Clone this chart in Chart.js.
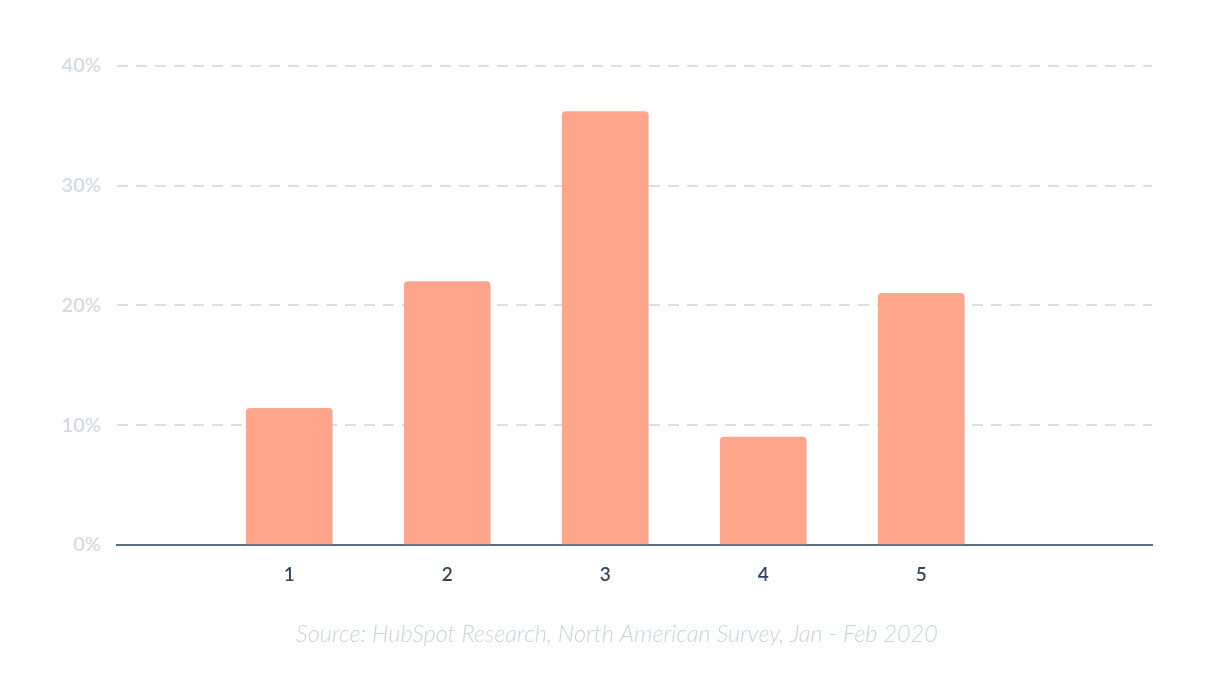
<!DOCTYPE html>
<html>
<head>
<meta charset="utf-8">
<script src="https://cdn.jsdelivr.net/npm/chart.js@4/dist/chart.umd.min.js"></script>
<style>
  html, body { margin: 0; padding: 0; background: #ffffff; }
  #wrap { width: 1224px; height: 698px; }
</style>
</head>
<body>
<div id="wrap"><canvas id="c" width="1224" height="698"></canvas></div>
<script>
const categories = [1, 2, 3, 4, 5];
const values = [11.4, 22.0, 36.2, 9.0, 21.0];
const yTicks = [0, 10, 20, 30, 40];
const sourceText = 'Source: HubSpot Research, North American Survey, Jan - Feb 2020';

const points = categories.map((c, i) => ({ x: c, y: values[i] }));

new Chart(document.getElementById('c'), {
  type: 'bar',
  data: {
    datasets: [{
      data: points,
      backgroundColor: '#fea58c',
      borderRadius: { topLeft: 4, topRight: 4, bottomLeft: 0, bottomRight: 0 },
      borderSkipped: 'start',
      barThickness: 86
    }]
  },
  options: {
    responsive: false,
    animation: false,
    devicePixelRatio: 1,
    layout: { padding: { left: 10, right: 0, top: 66, bottom: 49 } },
    plugins: {
      legend: { display: false },
      tooltip: { enabled: false },
      subtitle: {
        display: true,
        position: 'bottom',
        text: sourceText,
        color: '#c9d3de',
        font: { family: 'Lato', size: 23.5, style: 'italic', weight: '300', lineHeight: 1.2 },
        padding: { top: 0, bottom: 0 }
      }
    },
    scales: {
      x: {
        type: 'linear',
        offset: false,
        min: -0.09,
        max: 6.46,
        afterBuildTicks: (s) => { s.ticks = categories.map(v => ({ value: v })); },
        afterFit: (s) => { s.height = 76; },
        grid: { display: false, drawTicks: false, offset: false },
        border: { display: true, color: '#5b6d80', width: 2 },
        ticks: {
          color: '#33475b',
          padding: 19,
          font: { family: 'Lato', size: 19, weight: '600' },
          callback: (v) => String(v)
        }
      },
      y: {
        position: 'left',
        min: 0,
        max: 40,
        afterBuildTicks: (s) => { s.ticks = yTicks.map(v => ({ value: v })); },
        afterFit: (s) => { s.width = 107; },
        border: { display: false, dash: [11, 8] },
        grid: {
          drawTicks: false,
          lineWidth: 2,
          color: (ctx) => (ctx.tick && ctx.tick.value === 0) ? 'rgba(0,0,0,0)' : '#d8dfe7'
        },
        ticks: {
          color: '#d3dae3',
          padding: 16,
          font: { family: 'Lato', size: 20, weight: '600' },
          callback: (v) => v + '%'
        }
      },
      yRight: {
        position: 'right',
        min: 0,
        max: 40,
        display: true,
        afterFit: (s) => { s.width = 72; },
        grid: { display: false, drawTicks: false },
        border: { display: false },
        ticks: { display: false }
      }
    }
  }
});
</script>
</body>
</html>
